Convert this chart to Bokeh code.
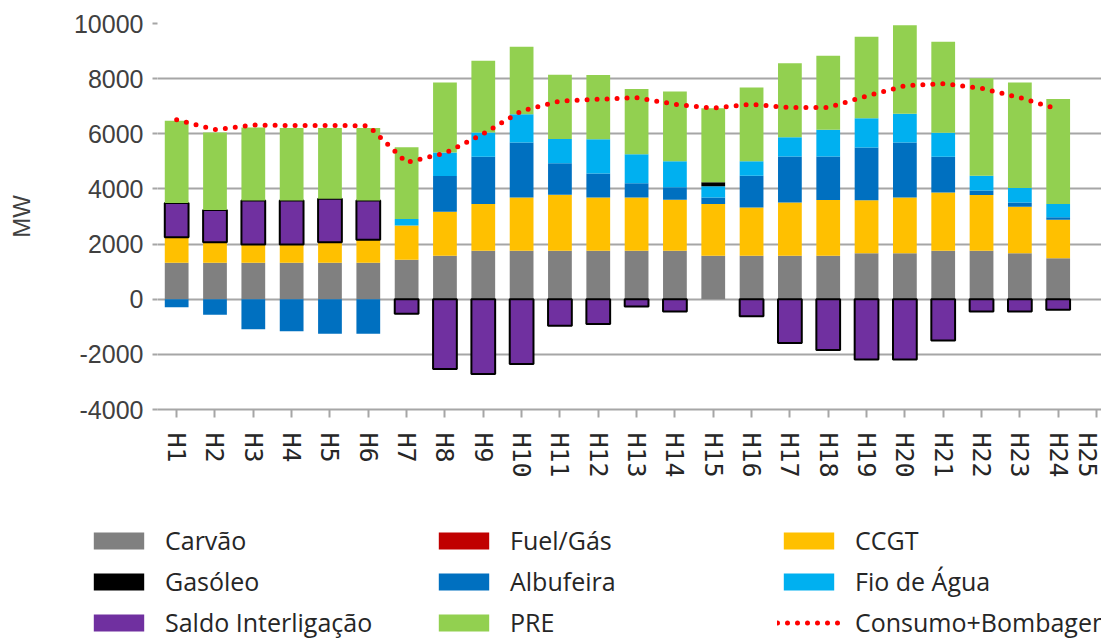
import numpy as np
from bokeh.plotting import figure
from bokeh.models import ColumnDataSource, Range1d, FixedTicker, Legend, LegendItem, NumeralTickFormatter
from bokeh.embed import file_html
from bokeh.resources import INLINE

# ---- data ----
hours = list(range(1, 25))
tick_positions = list(range(1, 26))
tick_labels = ["H1", "H2", "H3", "H4", "H5", "H6", "H7", "H8", "H9", "H10", "H11", "H12", "H13",
               "H14", "H15", "H16", "H17", "H18", "H19", "H20", "H21", "H22", "H23", "H24", "H25"]
y_ticks = [-4000, -2000, 0, 2000, 4000, 6000, 8000, 10000]

carvao = [1320, 1320, 1320, 1320, 1320, 1320, 1430, 1580, 1760, 1760, 1760, 1760, 1760, 1760,
          1580, 1580, 1580, 1580, 1670, 1670, 1760, 1760, 1670, 1490]
fuel_gas = [0, 0, 0, 0, 0, 0, 0, 0, 0, 0, 0, 0, 0, 0, 0, 0, 0, 0, 0, 0, 0, 0, 0, 0]
ccgt = [930, 750, 660, 660, 750, 840, 1240, 1590, 1690, 1930, 2030, 1930, 1930, 1850,
        1870, 1750, 1930, 2020, 1920, 2020, 2110, 2020, 1680, 1390]
albufeira = [-290, -560, -1090, -1160, -1250, -1250, 0, 1300, 1720, 1990, 1140, 870, 520, 450,
             240, 1150, 1670, 1580, 1910, 1990, 1300, 160, 160, 90]
fio_agua = [0, 0, 0, 0, 0, 0, 240, 850, 880, 1030, 880, 1240, 1050, 940,
            410, 520, 690, 970, 1060, 1050, 870, 540, 520, 480]
gasoleo = [0, 0, 0, 0, 0, 0, 0, 0, 0, 0, 0, 0, 0, 0, 140, 0, 0, 0, 0, 0, 0, 0, 0, 0]
saldo = [1240, 1170, 1600, 1600, 1570, 1420, -530, -2530, -2710, -2350, -960, -900, -260, -450,
         0, -620, -1590, -1840, -2190, -2190, -1500, -450, -450, -380]
pre = [2980, 2810, 2650, 2630, 2570, 2630, 2600, 2540, 2600, 2450, 2330, 2330, 2360, 2530,
       2690, 2680, 2690, 2680, 2960, 3210, 3300, 3530, 3830, 3810]
consumo = [6510, 6150, 6320, 6300, 6300, 6290, 4960, 5300, 6000, 6830, 7190, 7250, 7310, 7070,
           6930, 7070, 6950, 6950, 7370, 7740, 7820, 7650, 7310, 6890]

series_names = ["Carvão", "Fuel/Gás", "CCGT", "Albufeira", "Fio de Água", "Gasóleo",
                "Saldo Interligação", "PRE"]
series_values = [carvao, fuel_gas, ccgt, albufeira, fio_agua, gasoleo, saldo, pre]
series_colors = ["#808080", "#C00000", "#FFC000", "#0070C0", "#00B0F0", "#000000",
                 "#7030A0", "#92D050"]
line_name = "Consumo+Bombagem"
line_color = "#FF0000"

# ---- main figure ----
p = figure(width=1101, height=490,
           x_range=Range1d(0.5, 25.13), y_range=Range1d(-4000, 10000),
           output_backend="svg", toolbar_location=None,
           min_border_left=157, min_border_right=0, min_border_top=23, min_border_bottom=81)
p.outline_line_color = None
p.background_fill_color = "white"
p.border_fill_color = "white"

p.xgrid.visible = False
p.ygrid.grid_line_color = "#A6A6A6"
p.ygrid.grid_line_width = 2
p.ygrid.ticker = FixedTicker(ticks=y_ticks)

yax = p.yaxis[0]
yax.ticker = FixedTicker(ticks=y_ticks)
yax.formatter = NumeralTickFormatter(format="0")
yax.axis_line_color = None
yax.major_tick_line_color = "#A6A6A6"
yax.major_tick_line_width = 2
yax.major_tick_out = 5
yax.major_tick_in = 0
yax.minor_tick_line_color = None
yax.major_label_standoff = 9
yax.major_label_text_font = "Liberation Sans"
yax.major_label_text_font_size = "25px"
yax.major_label_text_color = "#404040"
yax.axis_label = "MW"
yax.axis_label_text_font = "Liberation Sans"
yax.axis_label_text_font_style = "normal"
yax.axis_label_text_font_size = "24px"
yax.axis_label_text_color = "#404040"
yax.axis_label_standoff = 36

xax = p.xaxis[0]
xax.ticker = FixedTicker(ticks=tick_positions)
xax.major_label_overrides = {t: lab for t, lab in zip(tick_positions, tick_labels)}
xax.major_label_orientation = "vertical"
xax.major_label_text_font = "DejaVu Sans Mono"
xax.major_label_text_font_size = "25px"
xax.major_label_text_color = "#262626"
xax.axis_line_color = "#A6A6A6"
xax.axis_line_width = 2
xax.major_tick_line_color = "#A6A6A6"
xax.major_tick_line_width = 2
xax.major_tick_out = 8
xax.major_tick_in = 0
xax.minor_tick_line_color = None
xax.major_label_standoff = 15

# ---- stacked bars (positives up, negatives down) ----
x_arr = np.array(hours, dtype=float)
pos_base = np.zeros(len(hours))
neg_base = np.zeros(len(hours))
for name, vals, color in zip(series_names, series_values, series_colors):
    v = np.array(vals, dtype=float)
    bottom = np.where(v >= 0, pos_base, neg_base)
    top = bottom + v
    pos_base = pos_base + np.clip(v, 0, None)
    neg_base = neg_base + np.clip(v, None, 0)
    mask = v != 0
    src = ColumnDataSource(dict(x=x_arr[mask], bottom=bottom[mask], top=top[mask]))
    p.vbar(x="x", bottom="bottom", top="top", width=0.62, source=src,
           fill_color=color, line_color=None)
    if name == "Saldo Interligação":
        p.vbar(x="x", bottom="bottom", top="top", width=0.62, source=src,
               fill_color=None, line_color="#000000", line_width=2)

p.line(hours, consumo, line_color=line_color, line_width=5,
       line_dash="0 10", line_cap="round")

# ---- legend strip: a separate root so its frame spans the full width ----
leg = figure(width=1101, height=150, x_range=Range1d(0, 1), y_range=Range1d(0, 1),
             output_backend="svg", toolbar_location=None,
             x_axis_type=None, y_axis_type=None,
             min_border_left=0, min_border_right=0, min_border_top=0, min_border_bottom=0)
leg.outline_line_color = None
leg.background_fill_color = "white"
leg.border_fill_color = "white"
leg.xgrid.visible = False
leg.ygrid.visible = False

# legend-only swatch renderers (kept outside the visible range)
swatch = {}
for name, color in zip(series_names, series_colors):
    swatch[name] = leg.vbar(x=[-5], bottom=[-5], top=[-4], width=0.5,
                            fill_color=color, line_color=None)
swatch[line_name] = leg.line(x=[-5, -4], y=[-5, -5], line_color=line_color, line_width=5,
                             line_dash="0 10", line_cap="round")

legend_cols = [["Carvão", "Gasóleo", "Saldo Interligação"],
               ["Fuel/Gás", "Albufeira", "PRE"],
               ["CCGT", "Fio de Água", line_name]]
legend_x = [87, 432, 777]
for col, lx in zip(legend_cols, legend_x):
    items = [LegendItem(label=n, renderers=[swatch[n]]) for n in col]
    lg = Legend(items=items, location=(lx, 1), orientation="vertical",
                glyph_width=63, glyph_height=21, label_standoff=15, spacing=7,
                padding=0, margin=0, border_line_color=None, background_fill_alpha=0,
                label_text_font="Open Sans", label_text_font_size="25px",
                label_text_color="#262626")
    leg.add_layout(lg, "center")

open("out.html", "w").write(file_html([p, leg], INLINE))
